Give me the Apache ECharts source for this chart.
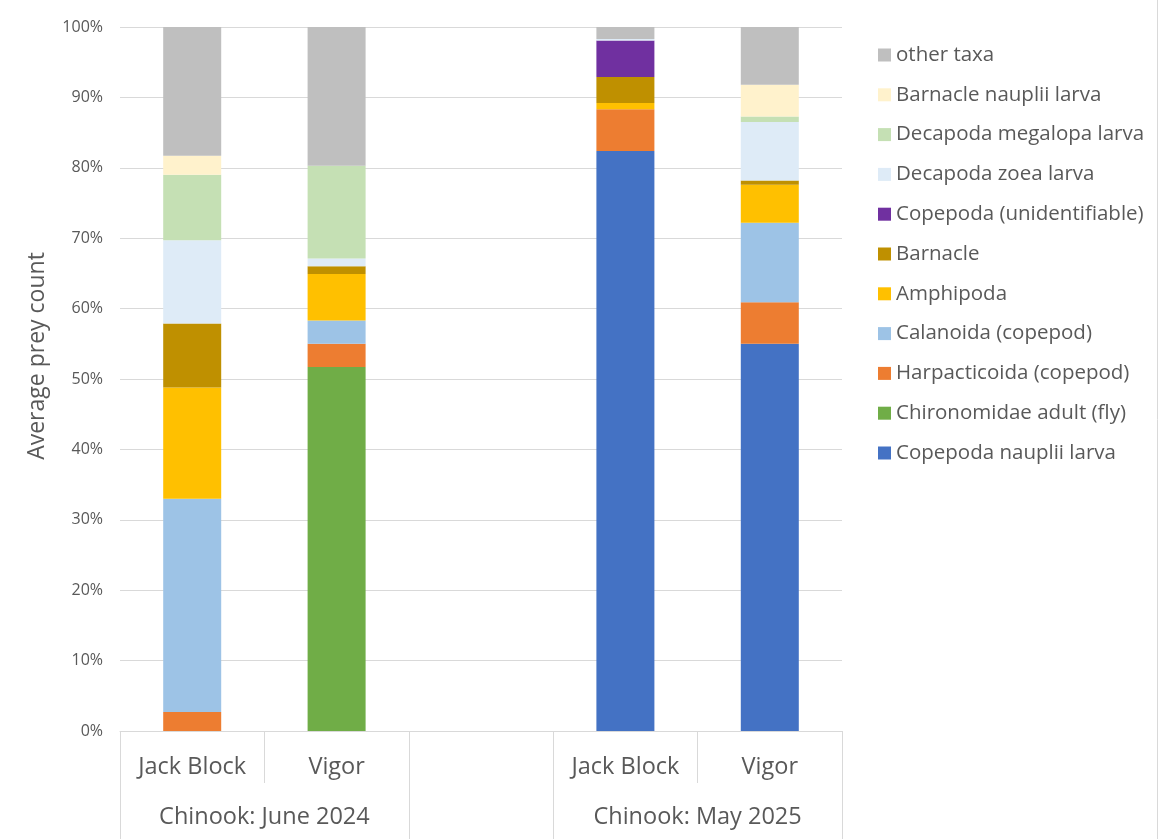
<!DOCTYPE html>
<html>
<head>
<meta charset="utf-8">
<script src="https://cdn.jsdelivr.net/npm/echarts@6/dist/echarts.min.js"></script>
<style>html,body{margin:0;padding:0;background:#fff}#c{width:1160px;height:839px}</style>
</head>
<body>
<div id="c"></div>
<script>
const categories = ['Jack Block', 'Vigor', '', 'Jack Block', 'Vigor'];
const groupLabels = ['Chinook: June 2024', 'Chinook: May 2025'];
const yTicks = [0, 10, 20, 30, 40, 50, 60, 70, 80, 90, 100];

const copepodaNauplii   = [0, 0, null, 82.4, 55.0];
const chironomidae      = [0, 51.7, null, 0, 0];
const harpacticoida     = [2.7, 3.3, null, 5.9, 5.9];
const calanoida         = [30.3, 3.3, null, 0, 11.3];
const amphipoda         = [15.8, 6.6, null, 0.9, 5.4];
const barnacle          = [9.1, 1.1, null, 3.7, 0.6];
const copepodaUnid      = [0, 0, null, 5.2, 0];
const decapodaZoea      = [11.8, 1.1, null, 0.2, 8.3];
const decapodaMegalopa  = [9.3, 13.2, null, 0, 0.8];
const barnacleNauplii   = [2.7, 0, null, 0, 4.5];
const otherTaxa         = [18.3, 19.7, null, 1.8, 8.2];

const seriesDefs = [
  ['Copepoda nauplii larva', copepodaNauplii, '#4472C4'],
  ['Chironomidae adult (fly)', chironomidae, '#70AD47'],
  ['Harpacticoida (copepod)', harpacticoida, '#ED7D31'],
  ['Calanoida (copepod)', calanoida, '#9DC3E6'],
  ['Amphipoda', amphipoda, '#FFC000'],
  ['Barnacle', barnacle, '#BF9000'],
  ['Copepoda (unidentifiable)', copepodaUnid, '#7030A0'],
  ['Decapoda zoea larva', decapodaZoea, '#DEEBF7'],
  ['Decapoda megalopa larva', decapodaMegalopa, '#C5E0B4'],
  ['Barnacle nauplii larva', barnacleNauplii, '#FFF2CC'],
  ['other taxa', otherTaxa, '#BFBFBF']
];

const FONT = 'Open Sans';
const TXT = '#595959';
const LINE = '#d9d9d9';

const chart = echarts.init(document.getElementById('c'), null, {renderer: 'canvas'});
chart.setOption({
  animation: false,
  textStyle: {fontFamily: FONT},
  grid: {left: 120, right: 318, top: 27, bottom: 108, containLabel: false},
  legend: {
    orient: 'vertical', left: 873, top: 39,
    itemWidth: 13, itemHeight: 13, itemGap: 17.8,
    icon: 'rect',
    data: seriesDefs.map(d => d[0]).reverse(),
    textStyle: {fontFamily: FONT, fontSize: 20.5, color: TXT, lineHeight: 22, padding: [0, 0, 0, 0]}
  },
  xAxis: [
    {
      type: 'category', data: categories, position: 'bottom',
      axisLine: {lineStyle: {color: LINE}},
      axisTick: {show: true, interval: 0, length: 52, lineStyle: {color: LINE}},
      axisLabel: {interval: 0, fontFamily: FONT, fontSize: 23.5, color: TXT, margin: 24}
    },
    {
      type: 'value', min: 0, max: 5, position: 'bottom',
      axisLine: {show: false},
      splitLine: {show: false},
      axisTick: {show: true, customValues: [0, 2, 3, 5], length: 108, lineStyle: {color: LINE}},
      axisLabel: {show: true, customValues: [1, 4], fontFamily: FONT, fontSize: 23.5, color: TXT, margin: 74,
        formatter: v => v === 1 ? groupLabels[0] : (v === 4 ? groupLabels[1] : '')}
    }
  ],
  yAxis: {
    type: 'value', min: 0, max: 100, interval: 10,
    axisLine: {show: false}, axisTick: {show: false},
    splitLine: {lineStyle: {color: LINE}},
    axisLabel: {fontFamily: FONT, fontSize: 16, color: TXT, margin: 17, formatter: '{value}%',
      customValues: yTicks}
  },
  graphic: [
    {type: 'text', x: 37, y: 356, rotation: Math.PI / 2,
      style: {text: 'Average prey count', fontFamily: FONT, fontSize: 23, fill: TXT, align: 'center', verticalAlign: 'middle'}},
    {type: 'line', shape: {x1: 1157.5, y1: 0, x2: 1157.5, y2: 839}, style: {stroke: LINE, lineWidth: 1}}
  ],
  series: seriesDefs.map(([name, data, color]) => ({
    name, type: 'bar', stack: 'total', data, xAxisIndex: 0,
    barWidth: 58,
    itemStyle: {color},
    emphasis: {disabled: true}
  }))
});
</script>
</body>
</html>
